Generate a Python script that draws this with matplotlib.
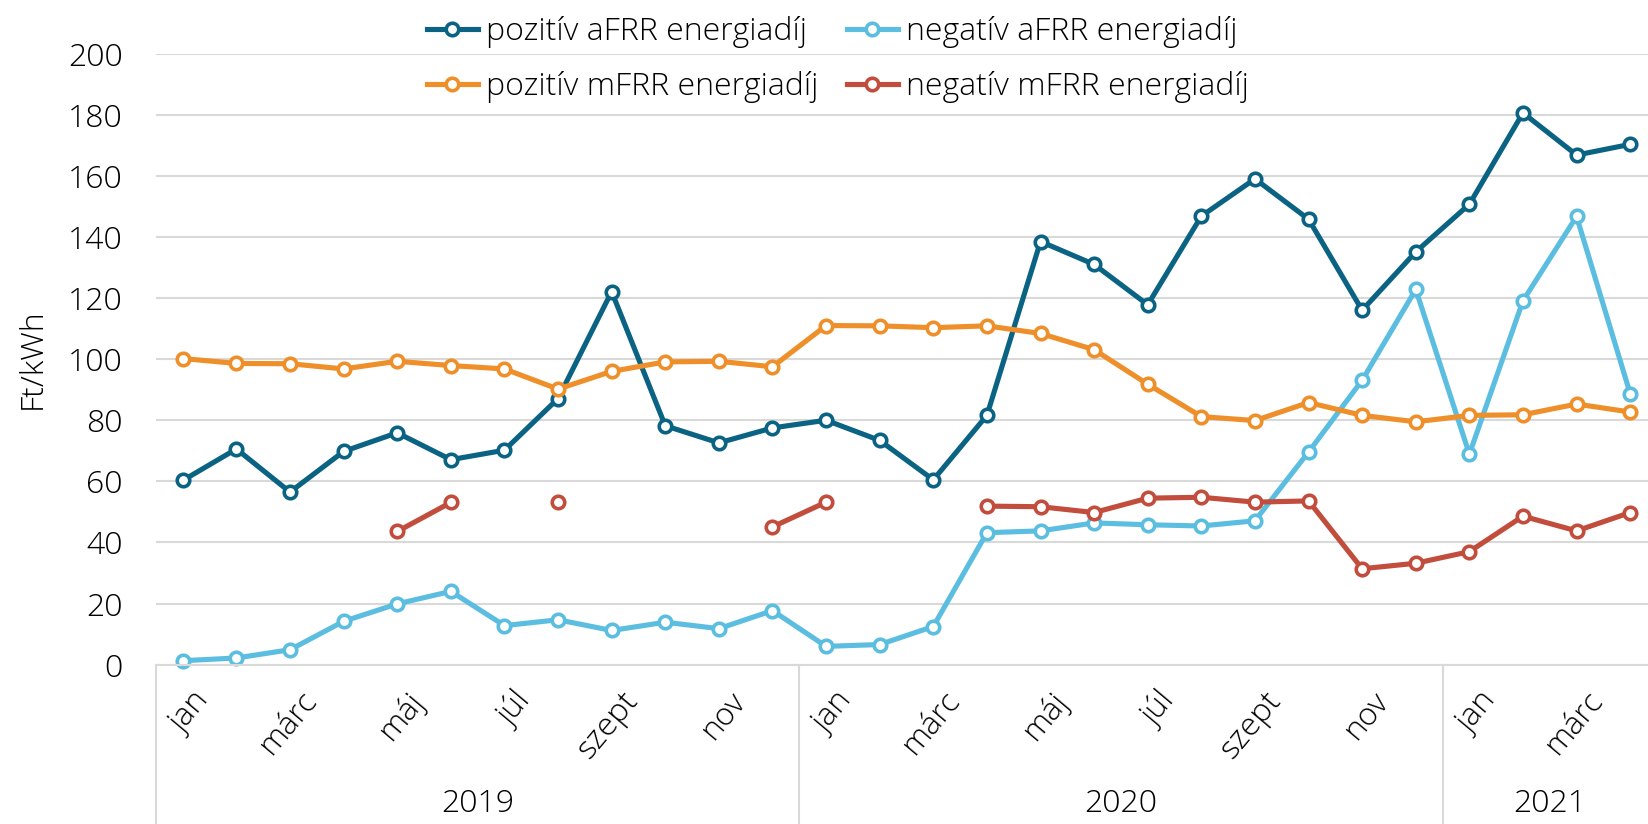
import matplotlib.pyplot as plt
import matplotlib.transforms as mtransforms
import numpy as np

# Data
months = ['jan', 'febr', 'márc', 'ápr', 'máj', 'jún', 'júl', 'aug', 'szept', 'okt', 'nov', 'dec',
          'jan', 'febr', 'márc', 'ápr', 'máj', 'jún', 'júl', 'aug', 'szept', 'okt', 'nov', 'dec',
          'jan', 'febr', 'márc', 'ápr']
years = ['2019', '2020', '2021']
year_spans = [(0, 11), (12, 23), (24, 27)]

poz_afrr = [60.3, 70.6, 56.5, 69.8, 75.9, 67.1, 70.2, 87.1, 122.1, 78.2, 72.6, 77.5,
            80.0, 73.4, 60.5, 81.6, 138.5, 131.0, 117.8, 146.8, 159.0, 145.8, 116.0, 135.1,
            150.7, 180.6, 166.8, 170.3]
neg_afrr = [1.3, 2.2, 4.9, 14.2, 19.9, 24.0, 12.8, 14.7, 11.2, 13.9, 11.8, 17.7,
            6.0, 6.6, 12.5, 43.2, 43.8, 46.4, 45.8, 45.4, 47.1, 69.6, 93.1, 122.8,
            68.9, 119.1, 146.7, 88.7]
poz_mfrr = [100.2, 98.6, 98.5, 96.8, 99.3, 97.9, 96.8, 90.2, 96.0, 99.1, 99.3, 97.5,
            111.0, 110.9, 110.3, 110.9, 108.4, 103.1, 91.8, 81.2, 79.9, 85.8, 81.6, 79.5,
            81.6, 81.8, 85.3, 82.7]
neg_mfrr = [np.nan, np.nan, np.nan, np.nan, 43.6, 53.1, np.nan, 53.1, np.nan, np.nan, np.nan, 45.1,
            53.2, np.nan, np.nan, 51.9, 51.7, 49.8, 54.5, 54.8, 53.2, 53.6, 31.4, 33.2,
            37.0, 48.6, 43.8, 49.8]

series = [
    ('pozitív aFRR energiadíj', poz_afrr, '#0B6383'),
    ('negatív aFRR energiadíj', neg_afrr, '#5BBEE0'),
    ('pozitív mFRR energiadíj', poz_mfrr, '#EF8F2A'),
    ('negatív mFRR energiadíj', neg_mfrr, '#C24D3C'),
]

plt.rcParams['font.family'] = ['Open Sans', 'DejaVu Sans']
plt.rcParams['font.weight'] = 'light'
plt.rcParams['axes.labelweight'] = 'light'
fs = 23

fig = plt.figure(figsize=(16.49, 8.24), dpi=100)
ax = fig.add_axes([156 / 1649, 1 - 664.7 / 824, 1501 / 1649, (664.7 - 53.6) / 824])

x = np.arange(len(months))
handles = []
for name, vals, col in series:
    h, = ax.plot(x, vals, color=col, lw=3.7, marker='o', ms=9, mfc='white',
                 mec=col, mew=2.6, label=name, solid_joinstyle='round', clip_on=False)
    handles.append(h)

ax.set_xlim(-0.5, 27.5)
ax.set_ylim(0, 200)
ax.set_yticks(np.arange(0, 201, 20))
ax.grid(axis='y', color='#D9D9D9', lw=1.5)
ax.set_axisbelow(True)
for s in ['top', 'right', 'left']:
    ax.spines[s].set_visible(False)
ax.spines['bottom'].set_color('#D9D9D9')
ax.spines['bottom'].set_linewidth(1.5)
ax.tick_params(axis='y', length=0, pad=24, labelsize=fs)
ax.tick_params(axis='x', length=0, pad=15, labelsize=fs)

ax.set_xticks(x[::2])
ax.set_xticklabels(months[::2], rotation=50, ha='right', va='top', rotation_mode='anchor')
offset = mtransforms.ScaledTranslation(9 / 100, 0, fig.dpi_scale_trans)
for lbl in ax.get_xticklabels():
    lbl.set_transform(lbl.get_transform() + offset)

ax.set_ylabel('Ft/kWh', fontsize=fs, fontweight='light', labelpad=14)

# year separators and labels
for (a, b), yr in zip(year_spans, years):
    ax.plot([a - 0.5, a - 0.5], [0, -0.33], transform=ax.get_xaxis_transform(),
            color='#D9D9D9', lw=1.5, clip_on=False)
    ax.text((a + b) / 2, -0.228, yr, transform=ax.get_xaxis_transform(),
            ha='center', va='center', fontsize=fs)

fig.legend(handles=[handles[0], handles[2], handles[1], handles[3]], ncol=2,
           loc='upper center', bbox_to_anchor=(0.508, 1.015), frameon=False,
           fontsize=fs, handlelength=1.6, handletextpad=0.25, columnspacing=0.9,
           labelspacing=0.7)

fig.savefig('out.png', dpi=100)
